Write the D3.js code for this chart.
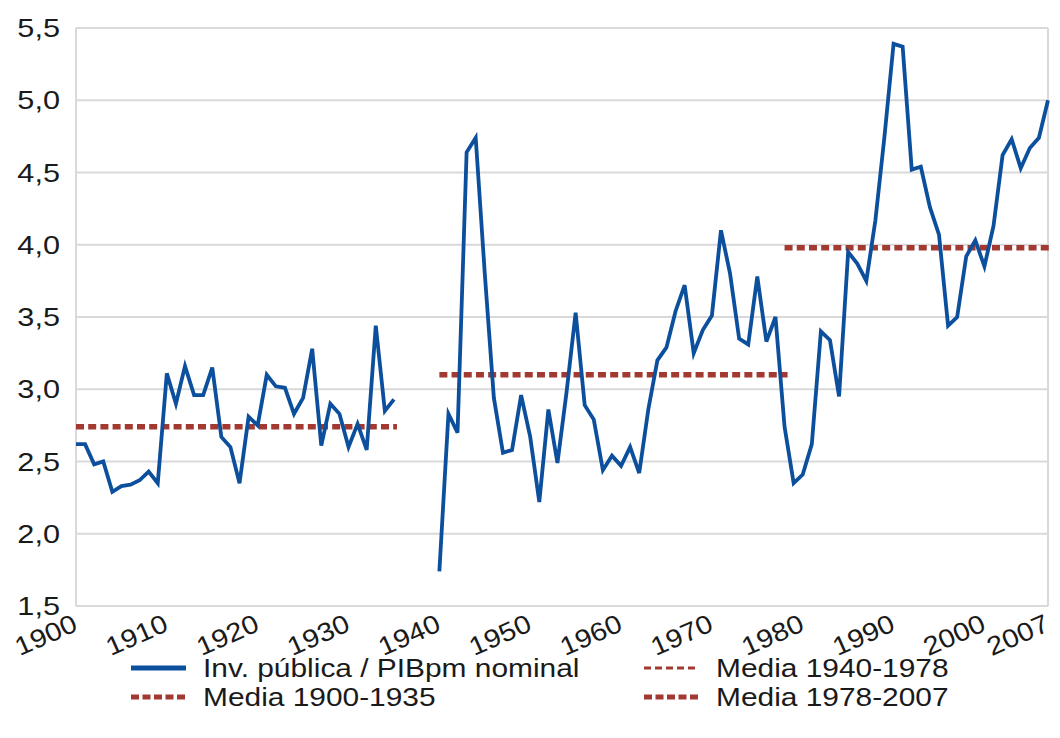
<!DOCTYPE html>
<html>
<head>
<meta charset="utf-8">
<script src="https://cdn.jsdelivr.net/npm/d3@7"></script>
<style>
  body { margin: 0; background: #fff; }
  text { font-family: "Liberation Sans", Arial, sans-serif; fill: #1a1a1a; }
</style>
</head>
<body>
<div id="chart"></div>
<script>
// Inversión pública / PIBpm nominal, 1900-2007 (null = sin dato)
var years = d3.range(1900, 2008);
var invPublica = [
  2.62, 2.62, 2.48, 2.50, 2.29, 2.33, 2.34, 2.37, 2.43, 2.35,
  3.11, 2.90, 3.16, 2.96, 2.96, 3.15, 2.67, 2.60, 2.35, 2.81,
  2.75, 3.10, 3.02, 3.01, 2.83, 2.94, 3.28, 2.61, 2.90, 2.83,
  2.60, 2.76, 2.58, 3.44, 2.85, 2.93, null, null, null, null,
  1.74, 2.83, 2.70, 4.64, 4.74, 3.80, 2.94, 2.56, 2.58, 2.96,
  2.67, 2.22, 2.86, 2.49, 2.98, 3.53, 2.89, 2.79, 2.44, 2.54,
  2.47, 2.60, 2.42, 2.86, 3.20, 3.29, 3.54, 3.72, 3.25, 3.41,
  3.51, 4.10, 3.80, 3.35, 3.31, 3.78, 3.33, 3.50, 2.74, 2.35,
  2.41, 2.62, 3.40, 3.34, 2.95, 3.95, 3.87, 3.75, 4.17, 4.75,
  5.39, 5.37, 4.52, 4.54, 4.26, 4.07, 3.44, 3.50, 3.92, 4.03,
  3.85, 4.13, 4.62, 4.73, 4.53, 4.67, 4.74, 5.00
];

// periodos de las medias
var mediaNames = ["Media 1900-1935", "Media 1940-1978", "Media 1978-2007"];
var mediaStart = [1900, 1940, 1978];
var mediaEnd = [1935, 1978, 2007];
var mediaValues = [2.74, 3.10, 3.98];

var yTicks = [1.5, 2.0, 2.5, 3.0, 3.5, 4.0, 4.5, 5.0, 5.5];
var xTicks = [1900, 1910, 1920, 1930, 1940, 1950, 1960, 1970, 1980, 1990, 2000, 2007];

var width = 1060, height = 738;
var blue = "#0c4f9c", red = "#a33a31", grid = "#d9d9d9";

var svg = d3.select("#chart").append("svg")
    .attr("width", width)
    .attr("height", height);

var x = d3.scaleLinear().domain([1900, 2007]).range([76, 1048]);
var y = d3.scaleLinear().domain([1.5, 5.5]).range([606, 28]);

var fmt = function(v) { return d3.format(".1f")(v).replace(".", ","); };

// gridlines + frame
svg.append("g").selectAll("line")
  .data(yTicks)
  .enter().append("line")
    .attr("x1", x(1900)).attr("x2", x(2007))
    .attr("y1", function(d) { return y(d); })
    .attr("y2", function(d) { return y(d); })
    .attr("stroke", grid).attr("stroke-width", 2);

svg.append("g").selectAll("line")
  .data([1900, 2007])
  .enter().append("line")
    .attr("x1", function(d) { return x(d); })
    .attr("x2", function(d) { return x(d); })
    .attr("y1", y(5.5)).attr("y2", y(1.5))
    .attr("stroke", grid).attr("stroke-width", 2);

// y labels
svg.append("g").selectAll("text")
  .data(yTicks)
  .enter().append("text")
    .attr("text-anchor", "end")
    .attr("font-size", 26)
    .attr("transform", function(d) { return "translate(60," + (y(d) + 9) + ") scale(1.18,1)"; })
    .text(fmt);

// x labels (rotated)
svg.append("g").selectAll("text")
  .data(xTicks)
  .enter().append("text")
    .attr("text-anchor", "end")
    .attr("font-size", 26)
    .attr("transform", function(d) { return "translate(" + (x(d) + 3) + ",630) rotate(-24) scale(1.12,1)"; })
    .text(function(d) { return d; });

// means
svg.append("g").selectAll("line")
  .data(mediaValues)
  .enter().append("line")
    .attr("x1", function(d, i) { return x(mediaStart[i]); })
    .attr("x2", function(d, i) { return x(mediaEnd[i]) + 3; })
    .attr("y1", function(d) { return y(d); })
    .attr("y2", function(d) { return y(d); })
    .attr("stroke", red)
    .attr("stroke-width", 5.5)
    .attr("stroke-dasharray", "8,4.2");

// main series
var line = d3.line()
    .defined(function(d) { return d[1] != null; })
    .x(function(d) { return x(d[0]); })
    .y(function(d) { return y(d[1]); });

svg.append("path")
    .datum(d3.zip(years, invPublica))
    .attr("fill", "none")
    .attr("stroke", blue)
    .attr("stroke-width", 3.8)
    .attr("stroke-linejoin", "miter")
    .attr("d", line);

// legend
var legendItems = [
  { name: "Inv. pública / PIBpm nominal", col: 0, row: 0, dash: null, w: 5 },
  { name: mediaNames[0], col: 0, row: 1, dash: "8,3.5", w: 5 },
  { name: mediaNames[1], col: 1, row: 0, dash: "7,4", w: 2.8 },
  { name: mediaNames[2], col: 1, row: 1, dash: "8,3.5", w: 5 }
];
var colX = [131, 644], rowY = [668, 697];

var leg = svg.append("g").selectAll("g")
  .data(legendItems)
  .enter().append("g")
    .attr("transform", function(d) { return "translate(" + colX[d.col] + "," + rowY[d.row] + ")"; });

leg.append("line")
    .attr("x1", 0).attr("x2", 55)
    .attr("stroke", function(d) { return d.dash ? red : blue; })
    .attr("stroke-width", function(d) { return d.w; })
    .attr("stroke-dasharray", function(d) { return d.dash; });

leg.append("text")
    .attr("font-size", 26)
    .attr("transform", "translate(72,9) scale(1.15,1)")
    .text(function(d) { return d.name; });
</script>
</body>
</html>
